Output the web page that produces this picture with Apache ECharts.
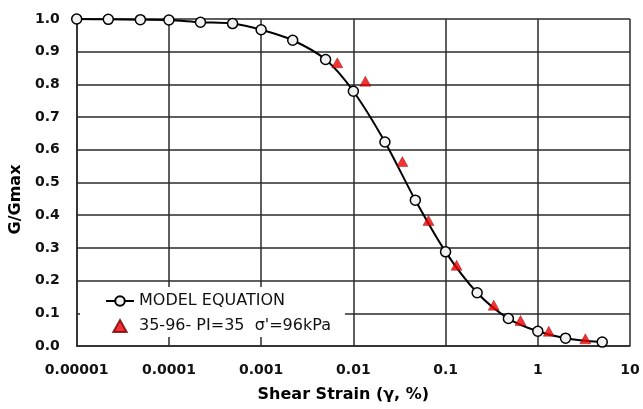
<!DOCTYPE html>
<html>
<head>
<meta charset="utf-8">
<script src="https://cdn.jsdelivr.net/npm/echarts@6/dist/echarts.min.js"></script>
<style>
html,body{margin:0;padding:0;background:#fff;}
#chart{width:643px;height:409px;}
</style>
</head>
<body>
<div id="chart"></div>
<script>
// Model equation curve (shear strain %, G/Gmax)
const modelStrain = [0.00001, 0.000022, 0.000049, 0.0001, 0.00022, 0.00049, 0.001, 0.0022, 0.005, 0.01, 0.022, 0.047, 0.1, 0.22, 0.48, 1, 2.0, 5.0];
const modelRatio  = [1.0, 0.999, 0.998, 0.997, 0.99, 0.986, 0.967, 0.935, 0.876, 0.779, 0.624, 0.446, 0.288, 0.163, 0.084, 0.045, 0.024, 0.012];
// Test data 35-96
const testStrain = [0.0067, 0.0135, 0.034, 0.0653, 0.1316, 0.333, 0.65, 1.315, 3.28];
const testRatio  = [0.866, 0.81, 0.564, 0.384, 0.247, 0.125, 0.078, 0.045, 0.022];

const seriesNames = ['MODEL EQUATION', "35-96- PI=35  σ'=96kPa"];
const xTickLabels = ['0.00001', '0.0001', '0.001', '0.01', '0.1', '1', '10'];
const yTickLabels = ['0.0', '0.1', '0.2', '0.3', '0.4', '0.5', '0.6', '0.7', '0.8', '0.9', '1.0'];
const xTitle = 'Shear Strain (γ, %)';
const yTitle = 'G/Gmax';

const gridColor = '#2a2a2a';
const chart = echarts.init(document.getElementById('chart'), null, {renderer: 'canvas'});
chart.setOption({
  animation: false,
  backgroundColor: '#fff',
  grid: {left: 74, right: 13, top: 19, bottom: 63, containLabel: false},
  xAxis: {
    type: 'log',
    logBase: 10,
    min: 0.00001,
    max: 10,
    name: xTitle,
    nameLocation: 'middle',
    nameGap: 41,
    nameTextStyle: {fontFamily: 'DejaVu Sans', fontWeight: 'bold', fontSize: 16, color: '#000', padding: [0, 20, 0, 0]},
    axisLine: {lineStyle: {color: gridColor, width: 1.5}},
    axisTick: {show: false},
    minorTick: {show: false},
    splitLine: {show: true, lineStyle: {color: gridColor, width: 1.5}},
    axisLabel: {
      margin: 17,
      fontFamily: 'DejaVu Sans', fontWeight: 'bold', fontSize: 14, color: '#111',
      formatter: function (v) {
        const i = Math.round(Math.log10(v)) + 5;
        return xTickLabels[i] !== undefined ? xTickLabels[i] : '';
      }
    }
  },
  yAxis: {
    type: 'value',
    min: 0,
    max: 1,
    interval: 0.1,
    name: yTitle,
    nameLocation: 'middle',
    nameRotate: 90,
    nameGap: 48,
    nameTextStyle: {fontFamily: 'DejaVu Sans', fontWeight: 'bold', fontSize: 16, color: '#000', padding: [0, 34, 0, 0]},
    axisLine: {show: true, lineStyle: {color: gridColor, width: 1.5}},
    axisTick: {show: false},
    splitLine: {show: true, lineStyle: {color: gridColor, width: 1.5}},
    axisLabel: {
      margin: 17,
      fontFamily: 'DejaVu Sans', fontWeight: 'bold', fontSize: 14, color: '#111',
      formatter: function (v) {
        const i = Math.round(v * 10);
        return yTickLabels[i] !== undefined ? yTickLabels[i] : '';
      }
    }
  },
  legend: {
    orient: 'vertical',
    left: 80,
    top: 287,
    padding: [6, 14, 3, 25],
    backgroundColor: '#fff',
    itemWidth: 28,
    itemHeight: 12,
    itemGap: 9,
    symbolKeepAspect: true,
    textStyle: {fontFamily: 'DejaVu Sans', fontSize: 16, color: '#111', lineHeight: 16},
    data: [
      {name: seriesNames[0]},
      {name: seriesNames[1], icon: 'path://M5,0 L10,9 L0,9 Z'}
    ]
  },
  series: [
    {
      name: seriesNames[0],
      type: 'line',
      smooth: 0.3,
      data: modelStrain.map((x, i) => [x, modelRatio[i]]),
      symbol: 'circle',
      symbolSize: 10,
      lineStyle: {color: '#000', width: 2},
      itemStyle: {color: '#f2f2f2', borderColor: '#000', borderWidth: 1.5},
      z: 3
    },
    {
      name: seriesNames[1],
      type: 'scatter',
      data: testStrain.map((x, i) => [x, testRatio[i]]),
      symbol: 'triangle',
      symbolSize: [11, 10],
      symbolKeepAspect: true,
      itemStyle: {color: '#f00000', borderColor: '#700', borderWidth: 0.5},
      z: 4
    }
  ]
});
</script>
</body>
</html>
